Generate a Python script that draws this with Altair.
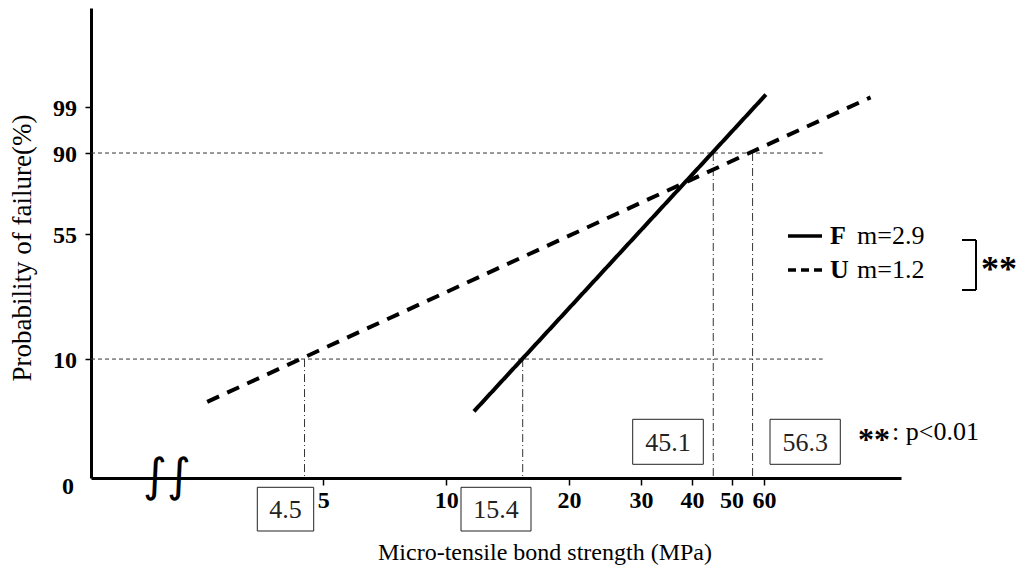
import altair as alt
import pandas as pd
import numpy as np

# ---------------- data ----------------
series_names = ["F", "U"]
F_strength = [11.7, 60.7]        # MPa, end points of the fitted Weibull line
F_prob = [4.7, 99.6]             # % failure
U_strength = [2.6, 109.5]
U_prob = [5.4, 99.5]
weibull_m = ["m=2.9", "m=1.2"]

crit_values = [4.5, 15.4, 45.1, 56.3]   # strengths at 10% / 90% failure
crit_probs = [10, 10, 90, 90]
crit_labels = ["4.5", "15.4", "45.1", "56.3"]

ref_probs = [10, 90]                    # horizontal reference levels (%)

x_tick_values = [5, 10, 20, 30, 40, 50, 60]
y_tick_labels = ["10", "55", "90", "99"]
y_tick_at_prob = [10, 49.6, 90, 99]      # where each label sits on the Weibull axis

# ---------------- helpers ----------------
def weib(p):
    p = np.asarray(p, dtype=float) / 100.0
    return [float(v) for v in np.log(-np.log(1.0 - p))]

W, H = 810, 470
x_scale = alt.Scale(type="log", domain=[1.35, 130], nice=False)
y_scale = alt.Scale(domain=[-4.031, 3.005], nice=False, zero=False)
SERIF = "Liberation Serif"

x_axis = alt.Axis(values=x_tick_values, title=None, grid=False,
                  labelFont=SERIF, labelFontWeight="bold", labelFontSize=24,
                  labelColor="black", tickColor="black", tickSize=7, tickWidth=1.5,
                  domainColor="black", domainWidth=3, labelPadding=3,
                  labelFlush=False, labelOverlap=False, format="d")
y_axis = alt.Axis(values=weib(y_tick_at_prob), labels=False, title=None,
                  grid=False, tickColor="black", tickSize=6, tickWidth=1.5,
                  domainColor="black", domainWidth=3)

lines_df = pd.DataFrame({
    "series": ["F"] * len(F_strength) + ["U"] * len(U_strength),
    "strength": F_strength + U_strength,
    "prob": F_prob + U_prob,
})
crit_df = pd.DataFrame({"strength": crit_values, "prob": crit_probs, "label": crit_labels})
ref_df = pd.DataFrame({"prob": ref_probs})
ytick_df = pd.DataFrame({"label": y_tick_labels, "c": weib(y_tick_at_prob)})

calc = "log(-log(1 - datum.prob/100))"

# main fitted lines
lines = alt.Chart(lines_df).transform_calculate(c=calc).mark_line(
    color="black", strokeWidth=4, strokeCap="butt"
).encode(
    x=alt.X("strength:Q", scale=x_scale, axis=x_axis),
    y=alt.Y("c:Q", scale=y_scale, axis=y_axis),
    strokeDash=alt.StrokeDash("series:N",
                              scale=alt.Scale(domain=series_names, range=[[1, 0], [13, 9]]),
                              legend=None),
    detail="series:N",
)

# horizontal dashed reference lines
hrefs = alt.Chart(ref_df).transform_calculate(c=calc).mark_rule(
    color="#333", strokeWidth=1, strokeDash=[4, 3]
).encode(
    y=alt.Y("c:Q", scale=y_scale, axis=y_axis),
    x=alt.value(0), x2=alt.value(731.7),
)

# vertical dash-dot drop lines
vrefs = alt.Chart(crit_df).transform_calculate(c=calc).mark_rule(
    color="#333", strokeWidth=1, strokeDash=[8, 3, 1, 3]
).encode(
    x=alt.X("strength:Q", scale=x_scale, axis=x_axis),
    y=alt.Y("c:Q", scale=y_scale, axis=y_axis),
    y2=alt.value(H),
)

# y tick labels
ylabels = alt.Chart(ytick_df).mark_text(
    font=SERIF, fontWeight="bold", fontSize=24, align="right", baseline="middle", dy=2
).encode(
    y=alt.Y("c:Q", scale=y_scale, axis=y_axis),
    x=alt.value(-14),
    text="label:N",
)

layers = [hrefs, vrefs, lines, ylabels]

def txt(s, x, y, size=24, weight="normal", align="center", angle=0, font=SERIF, color="black", style="normal"):
    kw = dict(font=font, fontSize=size, fontWeight=weight, align=align,
              baseline="middle", color=color, fontStyle=style)
    if angle:
        kw["angle"] = angle
    return alt.Chart(pd.DataFrame({"t": [s]})).mark_text(**kw).encode(
        text="t:N", x=alt.value(x), y=alt.value(y))

def rule(x1, y1, x2, y2, width=2, dash=None):
    kw = dict(color="black", strokeWidth=width)
    if dash:
        kw["strokeDash"] = dash
    return alt.Chart(pd.DataFrame({"a": [0]})).mark_rule(**kw).encode(
        x=alt.value(x1), x2=alt.value(x2), y=alt.value(y1), y2=alt.value(y2))

# "0" label at the bottom of the y axis
layers.append(txt("0", -23, 478.5, size=24, weight="bold"))

# axis titles
layers.append(txt("Micro-tensile bond strength (MPa)", 454, 545, size=24))
layers.append(txt("Probability of failure(%)", -68, 240, size=27, angle=270))

# axis-break mark
layers.append(txt("∫∫", 76, 469, size=46, font="DejaVu Sans"))

# boxed critical values (layout in plot pixels)
box_layout = [(166.3, 222.7, 479.3, 523.0), (370.0, 440.0, 479.3, 523.0),
              (541.7, 612.3, 411.3, 456.3), (679.0, 749.3, 411.3, 456.3)]
for lab, (x0, x1, y0, y1) in zip(crit_labels, box_layout):
    layers.append(alt.Chart(pd.DataFrame({"t": [lab]})).mark_rect(
        fill="white", stroke="#222", strokeWidth=1).encode(
        x=alt.value(x0), x2=alt.value(x1), y=alt.value(y0), y2=alt.value(y1)))
    layers.append(txt(lab, (x0 + x1) / 2, (y0 + y1) / 2 + 1, size=26, color="#222"))

# legend
layers.append(rule(697, 228, 731, 228, width=3.5))
layers.append(rule(697, 262, 731, 262, width=3.5, dash=[8, 5]))
layers.append(txt(series_names[0], 739, 228, size=26, weight="bold", align="left"))
layers.append(txt(series_names[1], 739, 262, size=26, weight="bold", align="left"))
layers.append(txt(weibull_m[0], 766, 228, size=26, align="left"))
layers.append(txt(weibull_m[1], 766, 262, size=26, align="left"))
# bracket
layers.append(rule(871, 232, 885, 232, width=2))
layers.append(rule(885, 232, 885, 282, width=2))
layers.append(rule(871, 282, 885, 282, width=2))
layers.append(txt("**", 890, 262, size=36, weight="bold", align="left"))
# significance note
layers.append(txt("**", 767, 432, size=32, weight="bold", align="left"))
layers.append(txt(": p<0.01", 801, 424, size=26, align="left"))

chart = alt.layer(*layers).properties(
    width=W, height=H,
    padding={"left": 83, "top": 0, "right": 119, "bottom": 92},
    autosize=alt.AutoSizeParams(type="none"),
    background="white",
).configure_view(stroke=None)

chart.save("out.html", embed_options={"renderer": "svg", "actions": False})
